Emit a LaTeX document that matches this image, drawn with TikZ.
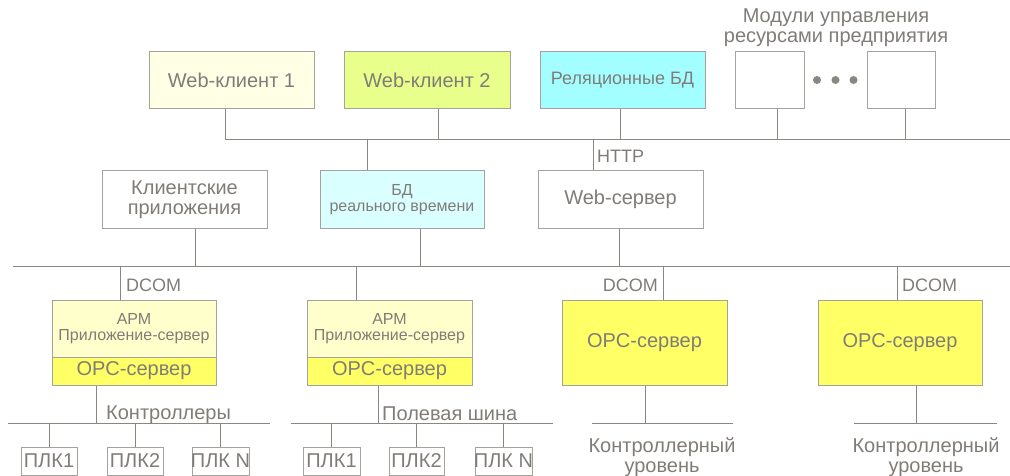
\documentclass[tikz,border=0pt]{standalone}
\usepackage{fontspec}
\setmainfont{Liberation Sans}
\definecolor{ln}{RGB}{140,134,128}
\definecolor{tx}{RGB}{128,124,120}
\definecolor{bd}{RGB}{165,162,158}
\definecolor{webA}{RGB}{255,255,230}
\definecolor{webB}{RGB}{232,255,140}
\definecolor{relc}{RGB}{163,255,255}
\definecolor{rtc}{RGB}{217,255,255}
\definecolor{apmc}{RGB}{255,255,204}
\definecolor{opcc}{RGB}{255,255,102}
\begin{document}
\begin{tikzpicture}[x=1pt,y=-1pt,
  box/.style={draw=bd, line width=1pt, inner sep=0pt, text=tx, align=center},
  lbl/.style={inner sep=0pt, text=tx, align=center},
  wire/.style={draw=ln, line width=1pt},
  fBig/.style={font=\fontsize{20}{20}\selectfont},
  fMid/.style={font=\fontsize{18}{20}\selectfont},
  fSm/.style={font=\fontsize{16}{16}\selectfont},
  bsz/.style 2 args={minimum width=#1pt, minimum height=#2pt}]
\useasboundingbox (0,0) rectangle (1010,476);
% ---- top row
\node[box, fill=webA, bsz={165}{57}, fBig] (w1) at (231.5,80.5) {Web-клиент 1};
\node[box, fill=webB, bsz={166}{57}, fBig] (w2) at (427,80.5) {Web-клиент 2};
\node[box, fill=relc, bsz={165}{57}, fMid] (rel) at (622.5,80.5) {Реляционные БД};
\node[box, fill=white, bsz={69}{57}] (m1) at (769.5,80.5) {};
\node[box, fill=white, bsz={68}{57}] (m2) at (901,80.5) {};
\node[lbl, fBig, anchor=base] (mt) at (836,43) {Модули управления\\ресурсами предприятия};
\fill[ln] (817,80) circle (4) (835.5,80) circle (4) (853.5,80) circle (4);
% ---- bus 1
\coordinate (b1L) at (225,140);
\coordinate (b1R) at (1010,140);
\draw[wire] (b1L) -- (b1R);
\coordinate (d2) at (438,140);
\coordinate (d3) at (620,140);
\coordinate (d4) at (777,140);
\coordinate (d5) at (905,140);
\coordinate (d6) at (367,140);
\coordinate (dh) at (593,140);
\draw[wire] (b1L |- w1.south) -- (b1L);
\draw[wire] (d2 |- w2.south) -- (d2);
\draw[wire] (d3 |- rel.south) -- (d3);
\draw[wire] (d4 |- m1.south) -- (d4);
\draw[wire] (d5 |- m2.south) -- (d5);
% ---- second row
\node[box, fill=white, bsz={165}{57}, fBig] (ca) at (184.5,199.5) {Клиентские\\приложения};
\node[box, fill=rtc, bsz={164}{57}, fSm] (rt) at (402,199.5) {БД\\реального времени};
\node[box, fill=white, bsz={165}{57}, fBig] (ws) at (620.5,199.5) {Web-сервер};
\draw[wire] (d6) -- (d6 |- rt.north);
\draw[wire] (dh) -- (dh |- ws.north);
\node[lbl, fMid, anchor=base west] (http) at (597,163) {HTTP};
% ---- bus 2
\coordinate (b2L) at (13,266);
\coordinate (b2R) at (1010,266);
\draw[wire] (b2L) -- (b2R);
\coordinate (e1) at (195,266);
\coordinate (e2) at (420,266);
\coordinate (e3) at (619,266);
\draw[wire] (e1 |- ca.south) -- (e1);
\draw[wire] (e2 |- rt.south) -- (e2);
\draw[wire] (e3 |- ws.south) -- (e3);
% ---- third row
\node[box, fill=apmc, bsz={164}{57}, fSm] (apm1) at (134,328.5) {АРМ\\Приложение-сервер};
\node[box, fill=opcc, bsz={164}{28}, font=\fontsize{20}{22}\selectfont] (opc1) at (134,371) {OPC-сервер};
\node[box, fill=apmc, bsz={165}{57}, fSm] (apm2) at (389.5,328.5) {АРМ\\Приложение-сервер};
\node[box, fill=opcc, bsz={165}{28}, font=\fontsize{20}{22}\selectfont] (opc2) at (389.5,371) {OPC-сервер};
\node[box, fill=opcc, bsz={165}{85}, font=\fontsize{20}{22}\selectfont] (opc3) at (644.5,342.5) {OPC-сервер};
\node[box, fill=opcc, bsz={164}{85}, font=\fontsize{20}{22}\selectfont] (opc4) at (900,342.5) {OPC-сервер};
\coordinate (f1) at (120,266);
\coordinate (f2) at (356,266);
\coordinate (f3) at (663,266);
\coordinate (f4) at (897,266);
\draw[wire] (f1) -- (f1 |- apm1.north);
\draw[wire] (f2) -- (f2 |- apm2.north);
\draw[wire] (f3) -- (f3 |- opc3.north);
\draw[wire] (f4) -- (f4 |- opc4.north);
\node[lbl, fMid, anchor=base west] (dc1) at (126,291) {DCOM};
\node[lbl, fMid, anchor=base east] (dc3) at (658,291) {DCOM};
\node[lbl, fMid, anchor=base west] (dc4) at (902,291) {DCOM};
% ---- field buses
\coordinate (g1) at (96,423);
\coordinate (g2) at (378,423);
\coordinate (g3) at (645,423);
\coordinate (g4) at (916,423);
\draw[wire] (g1 |- opc1.south) -- (g1);
\draw[wire] (g2 |- opc2.south) -- (g2);
\draw[wire] (g3 |- opc3.south) -- (g3);
\draw[wire] (g4 |- opc4.south) -- (g4);
\coordinate (h1L) at (8,423);   \coordinate (h1R) at (270,423);
\coordinate (h2L) at (291,423); \coordinate (h2R) at (553,423);
\coordinate (h3L) at (592,423); \coordinate (h3R) at (733,423);
\coordinate (h4L) at (854,423); \coordinate (h4R) at (997,423);
\draw[wire] (h1L) -- (h1R);
\draw[wire] (h2L) -- (h2R);
\draw[wire] (h3L) -- (h3R);
\draw[wire] (h4L) -- (h4R);
\node[lbl, fBig, anchor=base west] (kt) at (106,419) {Контроллеры};
\node[lbl, fBig, anchor=base west] (pf) at (382,420) {Полевая шина};
\node[lbl, fBig, anchor=base] (ku1) at (662,472) {Контроллерный\\уровень};
\node[lbl, fBig, anchor=base] (ku2) at (926,472) {Контроллерный\\уровень};
% ---- PLCs
\foreach \n/\x/\w/\t in {p1/49/56/ПЛК1, p2/135/56/ПЛК2, p3/220.5/57/ПЛК N,
                          q1/331.5/57/ПЛК1, q2/416.5/55/ПЛК2, q3/503.5/57/ПЛК N}{
  \node[box, fill=white, minimum width=\w pt, minimum height=28pt] (\n) at (\x,461) {};
  \node[lbl, font=\fontsize{20}{20}\selectfont] (\n t) at (\x,461) {\t};
}
\draw[wire] (p1.north |- h1L) -- (p1.north);
\draw[wire] (p2.north |- h1L) -- (p2.north);
\draw[wire] (p3.north |- h1L) -- (p3.north);
\draw[wire] (q1.north |- h2L) -- (q1.north);
\draw[wire] (q2.north |- h2L) -- (q2.north);
\draw[wire] (q3.north |- h2L) -- (q3.north);
\end{tikzpicture}
\end{document}
